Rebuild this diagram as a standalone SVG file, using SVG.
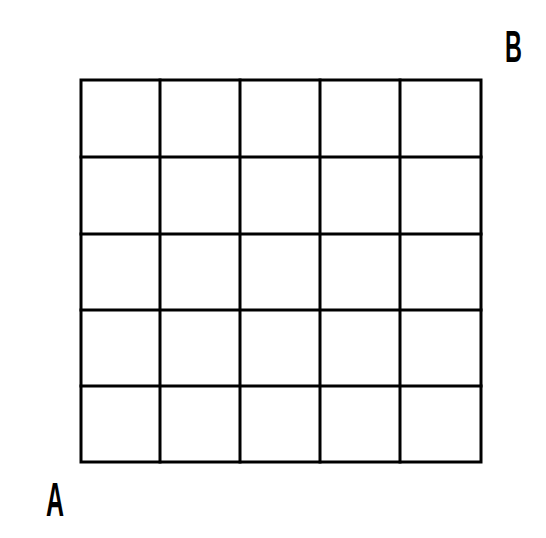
<svg xmlns="http://www.w3.org/2000/svg" width="546" height="538" viewBox="0 0 546 538">
<style>
.g{stroke:#000;stroke-width:3;fill:none;stroke-linecap:square}
.lbl{font-family:"Liberation Sans",Arial,sans-serif;font-weight:bold;fill:#000}
</style>
<rect width="546" height="538" fill="#fff"/>
<g id="grid">
<rect class="g" x="81" y="80" width="400" height="382"/>
<path class="g" d="M160 80V462M240 80V462M320 80V462M400 80V462M81 157H481M81 234H481M81 310H481M81 386H481"/>
</g>
<g id="label-B"><text class="lbl" font-size="45" transform="translate(505 62) scale(0.52 1)">B</text></g>
<g id="label-A"><text class="lbl" font-size="48" transform="translate(46 516) scale(0.52 1)">A</text></g>
</svg>
